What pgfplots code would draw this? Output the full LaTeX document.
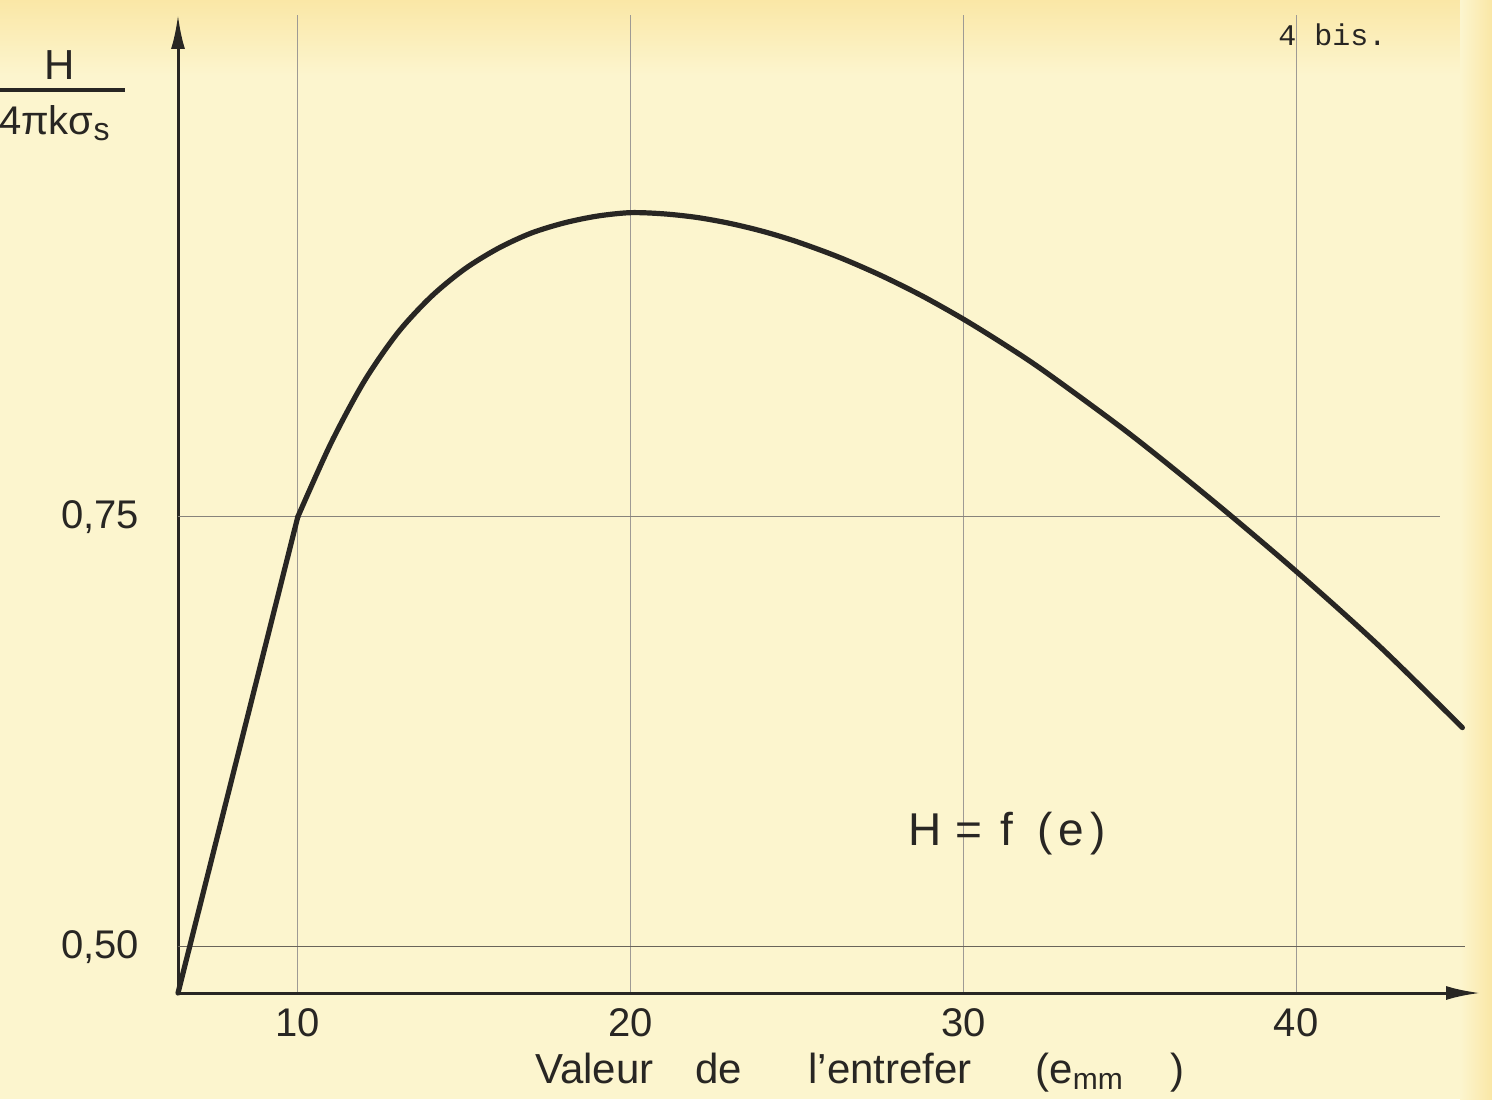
\documentclass[border=0pt]{standalone}
\usepackage{pgfplots}
\pgfplotsset{compat=1.18}
\usetikzlibrary{arrows.meta}
\usepackage{fontspec}
\setmainfont{Liberation Sans}
\newfontfamily\mono{Liberation Mono}
\definecolor{paper}{RGB}{252,245,206}
\definecolor{papertop}{RGB}{250,231,166}
\definecolor{ink}{RGB}{40,38,35}
\definecolor{gridink}{RGB}{105,100,90}

\begin{document}
\begin{tikzpicture}
\clip (0,0) rectangle (746pt,549.5pt);
\fill[paper] (0,0) rectangle (746pt,549.5pt);
\shade[top color=papertop, bottom color=paper] (0,512pt) rectangle (746pt,549.5pt);
\shade[left color=paper, right color=papertop] (730pt,0) rectangle (746pt,549.5pt);

\begin{axis}[
  at={(89pt,53pt)}, anchor=south west,
  scale only axis, width=651pt, height=489pt,
  xmin=6.4, xmax=45.53, ymin=0.473, ymax=1.042,
  axis lines=left,
  axis line style={ink, line width=1.5pt, -{Latex[length=17pt,width=7pt]}},
  xtick={10,20,30,40}, xticklabels={10,20,30,40},
  ytick={0.5,0.75}, yticklabels={{0,50},{0,75}},
  major tick length=0pt,
  xmajorgrids,
  x grid style={gridink!65, line width=0.4pt},
  tick label style={font=\fontsize{20}{24}\selectfont, text=ink},
  xticklabel style={yshift=-4pt},
  yticklabel style={xshift=-16pt},
  clip=false,
]
\draw[gridink!80, line width=0.5pt] (axis cs:6.4,0.75) -- (axis cs:44.33,0.75);
\draw[gridink, line width=0.7pt] (axis cs:6.4,0.5) -- (axis cs:45.08,0.5);
\addplot[ink, line width=2.6pt, line cap=round] coordinates {
  (6.4,0.473) (10,0.75)
};
\addplot[ink, line width=2.6pt, line cap=round, smooth, tension=0.5] coordinates {
  (10,0.750) (11,0.793) (12,0.829) (13,0.857) (14,0.878) (15,0.894)
  (16,0.906) (17,0.915) (18,0.921) (19,0.925) (20,0.927) (21,0.9263)
  (22,0.9242) (23,0.9207) (24,0.9160) (25,0.9101) (26.25,0.9012)
  (27.5,0.8907) (28.75,0.8787) (30,0.8651) (31.25,0.8501) (32.5,0.8339)
  (35,0.7983) (37.5,0.7594) (40,0.7184) (42.5,0.6749) (45,0.6274)
};
\end{axis}

% page number
\node[anchor=base west, font=\mono\fontsize{15}{18}\selectfont, text=ink, inner sep=0pt] at (639pt,526.5pt) {4 bis.};

% y label (fraction)
\node[anchor=base, font=\fontsize{21}{24}\selectfont, text=ink, inner sep=0pt] at (30pt,509.5pt) {H};
\draw[ink, line width=1.8pt] (-5pt,504.5pt) -- (62.5pt,504.5pt);
\node[anchor=base east, font=\fontsize{20}{24}\selectfont, text=ink, inner sep=0pt] at (55pt,482pt)
  {4πkσ\raisebox{-3pt}{\fontsize{16}{20}\selectfont s}};

% curve label
\node[anchor=base west, font=\fontsize{23}{26}\selectfont, text=ink, inner sep=0pt] at (454pt,127pt)
  {H\hspace{7pt}=\hspace{9pt}f\hspace{12pt}(\hspace{3pt}e\hspace{3pt})};

% x label
\begin{scope}[every node/.style={anchor=base west, font=\fontsize{21}{24}\selectfont, text=ink, inner sep=0pt}]
\node at (267.5pt,8pt) {Valeur};
\node at (347.5pt,8pt) {de};
\node at (404pt,8pt) {l’entrefer};
\node at (517.5pt,8pt) {(e\raisebox{-3pt}{\fontsize{15}{18}\selectfont mm}};
\node at (585pt,8pt) {)};
\end{scope}
\end{tikzpicture}
\end{document}
